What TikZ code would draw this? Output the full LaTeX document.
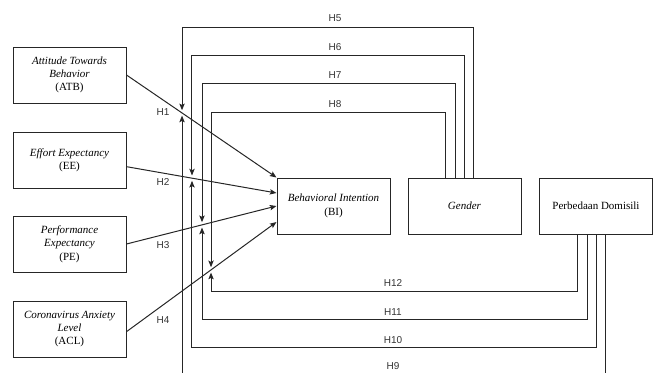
\documentclass[tikz,border=0pt]{standalone}
\usepackage{fontspec}
\setmainfont{Liberation Serif}
\newfontfamily\labfont{Liberation Sans}
\usetikzlibrary{arrows.meta,calc}

\tikzset{
  var/.style={draw=black!85, line width=0.75pt, minimum width=84.75pt, minimum height=42pt,
    align=center, inner sep=2pt, font=\fontsize{8.25}{10}\selectfont},
  link/.style={draw=black!85, line width=0.75pt, -{Stealth[length=5pt,width=4pt,inset=1pt]}},
  hlab/.style={font=\labfont\fontsize{7.5}{9}\selectfont, text=black!80, inner sep=1pt},
}

\begin{document}
\begin{tikzpicture}[x=0.75pt, y=-0.75pt]
    \useasboundingbox (0,0) rectangle (657,372);
    \clip (0,0) rectangle (657,372);

    % Variables
    \node[var] (atb) at (69.5,75) {\textit{Attitude Towards}\\\textit{Behavior}\\(ATB)};
    \node[var] (ee) at (69.5,160) {\textit{Effort Expectancy}\\(EE)};
    \node[var] (pe) at (69.5,244) {\textit{Performance}\\\textit{Expectancy}\\(PE)};
    \node[var] (acl) at (69.5,329) {\textit{Coronavirus Anxiety}\\\textit{Level}\\(ACL)};
    \node[var] (bi) at (333.5,206) {\textit{Behavioral Intention}\\(BI)};
    \node[var] (gen) at (464.5,206) {\textit{Gender}};
    \node[var] (perb) at (596,206) {Perbedaan Domisili};

    % Direct paths
    \coordinate (atb-o) at (atb.east);
    \coordinate (ee-o) at ([yshift=-5pt]ee.east);
    \coordinate (pe-o) at (pe.east);
    \coordinate (acl-o) at ([yshift=-2pt]acl.east);
    \coordinate (bi-1) at (bi.north west);
    \coordinate (bi-2) at ([yshift=9.75pt]bi.west);
    \coordinate (bi-3) at (bi.west);
    \coordinate (bi-4) at ([yshift=-12pt]bi.west);
    \foreach \src/\i in {atb/1, ee/2, pe/3, acl/4}
        \draw[link] (\src-o) -- (bi-\i);

    % Moderation lines meet the direct paths here
    \foreach \i/\x in {1/182, 2/192, 3/202, 4/211} {
        \coordinate (vt\i) at (\x,0);
        \coordinate (vb\i) at (\x,400);
    }
    \coordinate (h1) at (intersection of atb-o--bi-1 and vt1--vb1);
    \coordinate (h2) at (intersection of ee-o--bi-2 and vt2--vb2);
    \coordinate (h3) at (intersection of pe-o--bi-3 and vt3--vb3);
    \coordinate (h4) at (intersection of acl-o--bi-4 and vt4--vb4);

    % Gender (H5-H8)
    \foreach \dx/\yy/\h in {7.1/28/1, 0/56/2, -7.1/84/3, -13.9/113/4}
        \draw[link, shorten >=2pt] ([xshift=\dx pt]gen.north) -- ++(0,\yy-178) -| (h\h);

    % Perbedaan Domisili (H9-H12)
    \foreach \dx/\yy/\h in {6.75/375/1, 0/347/2, -6.75/319/3, -14.25/291/4}
        \draw[link, shorten >=2pt] ([xshift=\dx pt]perb.south) -- ++(0,\yy-234) -| (h\h);

    % Labels
    \foreach \n/\x/\y in {1/163/112, 2/163/182, 3/163/245, 4/163/320,
                          5/335/18, 6/335/47, 7/335/75, 8/335/104,
                          9/393/366, 10/393/340, 11/393/312, 12/393/283}
        \node[hlab] (l\n) at (\x,\y) {H\n};
\end{tikzpicture}
\end{document}
